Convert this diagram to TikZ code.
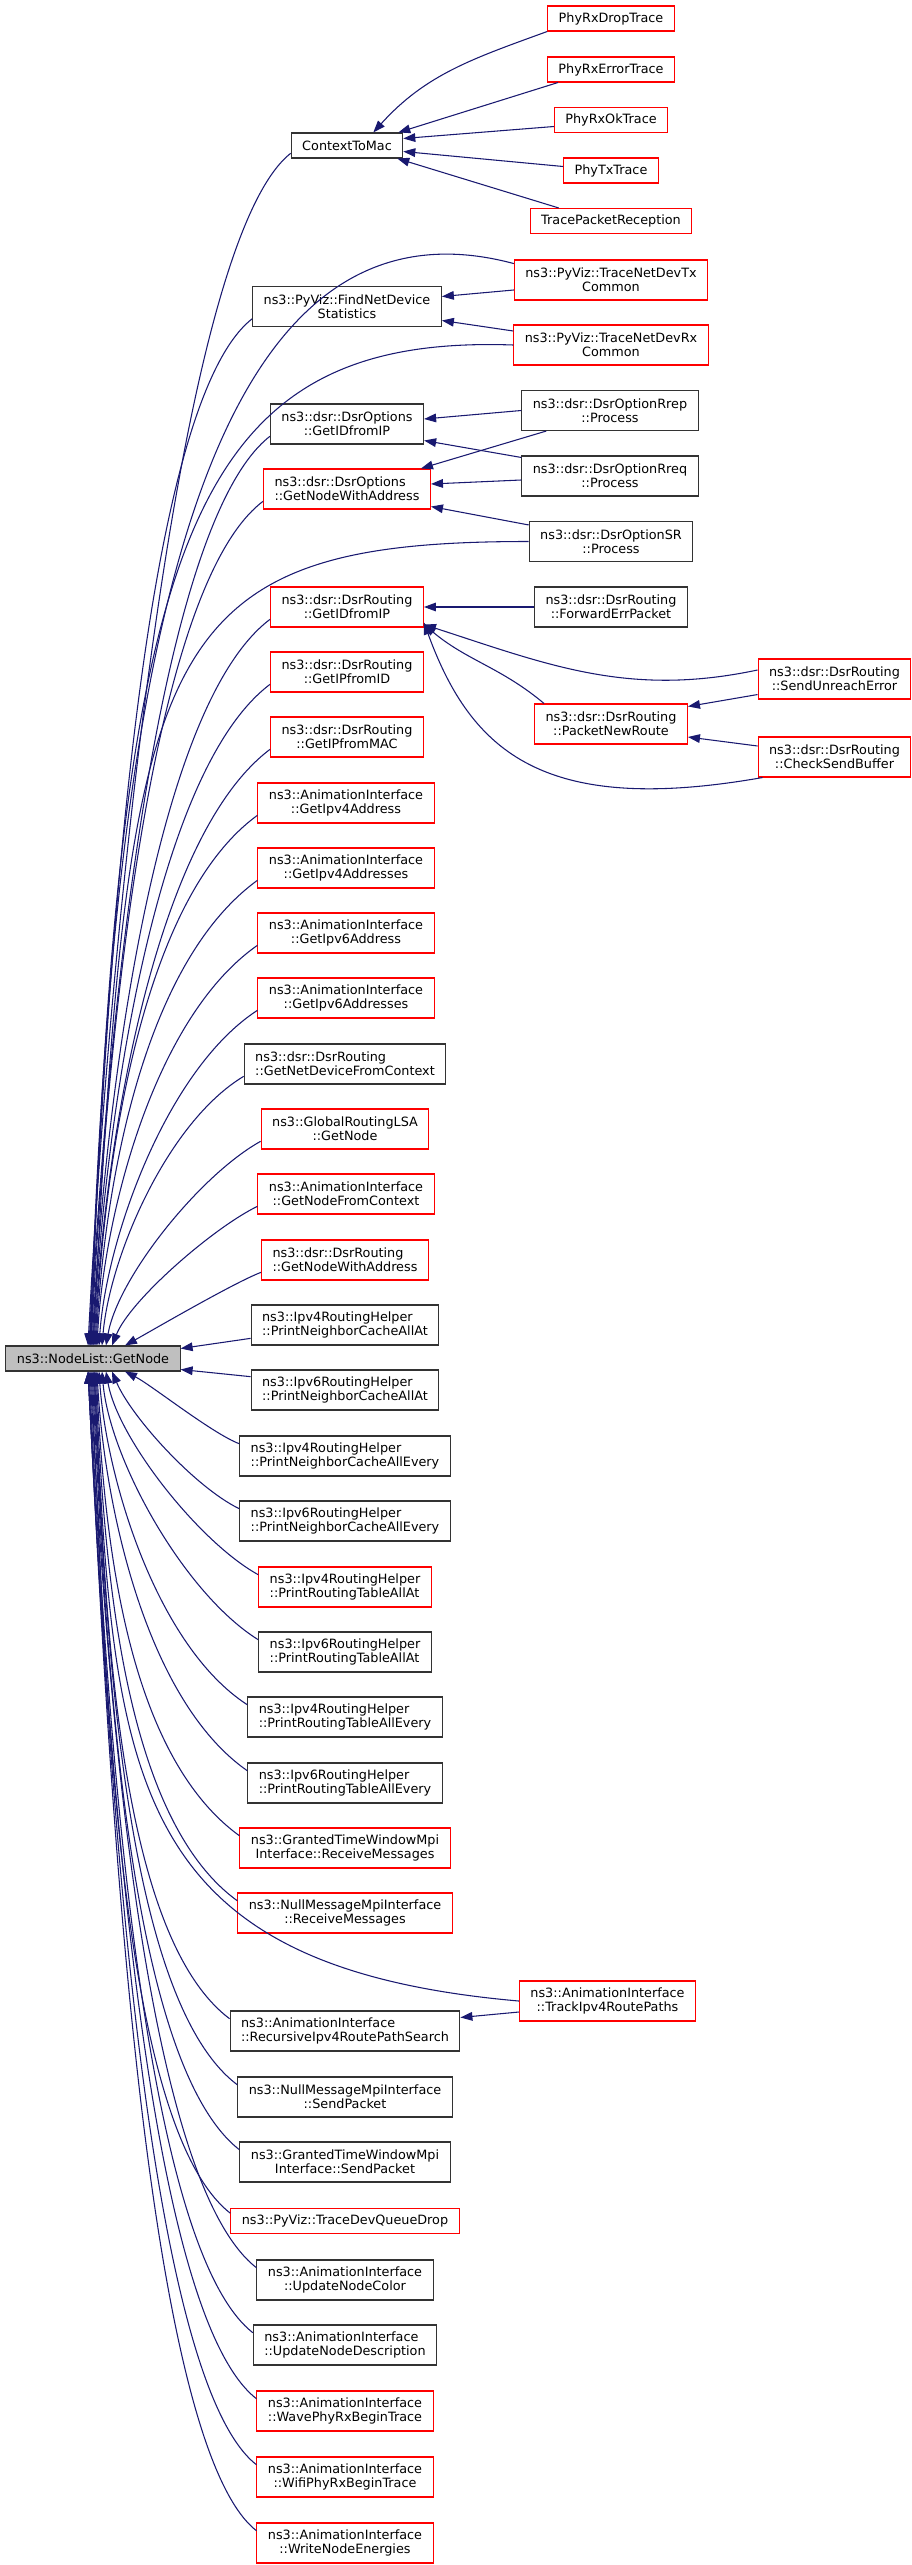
\documentclass[tikz,border=0pt]{standalone}
\usepackage{fontspec}
\setmainfont{DejaVu Sans}
\usetikzlibrary{arrows.meta,calc}
\definecolor{edgeblue}{HTML}{191970}

\begin{document}
\begin{tikzpicture}[x=0.75pt, y=0.75pt,
        fn/.style = {draw=black!80, line width=0.8pt, minimum height=18.75pt, inner xsep=8.25pt, inner ysep=1pt, font=\fontsize{9.6}{10.7}\selectfont, align=center},
        two/.style = {minimum height=30pt},
        hot/.style = {draw=red},
        lft/.style = {align=left},
        calls/.style = {draw=edgeblue, line width=0.8pt, -{Triangle[length=9pt,width=6.5pt]}},]
    \useasboundingbox (0,0) rectangle (912,-2565);

    % root
    \node[fn, fill=gray!50] (root) at (93,-1358.5) {ns3::NodeList::GetNode};

    % callers above the root
    \node[fn] (ctx) at (347,-145.5) {ContextToMac};
    \node[fn, hot] (drop) at (611,-18.5) {PhyRxDropTrace};
    \node[fn, hot] (err) at (611,-69.5) {PhyRxErrorTrace};
    \node[fn, hot] (ok) at (611,-120) {PhyRxOkTrace};
    \node[fn, hot] (ptx) at (611,-170.5) {PhyTxTrace};
    \node[fn, hot] (recv) at (611,-221) {TracePacketReception};
    \node[fn, two] (find) at (347,-306.5) {ns3::PyViz::FindNetDevice\\Statistics};
    \node[fn, two, hot] (devtx) at (611,-280) {ns3::PyViz::TraceNetDevTx\\Common};
    \node[fn, two, hot] (devrx) at (611,-345) {ns3::PyViz::TraceNetDevRx\\Common};
    \node[fn, two] (optip) at (347,-424) {ns3::dsr::DsrOptions\\::GetIDfromIP};
    \node[fn, two, hot, lft] (optnode) at (347,-489) {ns3::dsr::DsrOptions\\::GetNodeWithAddress};
    \node[fn, two] (rrep) at (610,-410.5) {ns3::dsr::DsrOptionRrep\\::Process};
    \node[fn, two] (rreq) at (610,-476) {ns3::dsr::DsrOptionRreq\\::Process};
    \node[fn, two] (sr) at (611,-541.5) {ns3::dsr::DsrOptionSR\\::Process};
    \node[fn, two, hot] (rtip) at (347,-607) {ns3::dsr::DsrRouting\\::GetIDfromIP};
    \node[fn, two] (fwd) at (611,-607) {ns3::dsr::DsrRouting\\::ForwardErrPacket};
    \node[fn, two, hot] (unreach) at (834.5,-679) {ns3::dsr::DsrRouting\\::SendUnreachError};
    \node[fn, two, hot] (newroute) at (611,-724) {ns3::dsr::DsrRouting\\::PacketNewRoute};
    \node[fn, two, hot] (sendbuf) at (834.5,-757) {ns3::dsr::DsrRouting\\::CheckSendBuffer};
    \node[fn, two, hot] (ipfromid) at (347,-672) {ns3::dsr::DsrRouting\\::GetIPfromID};
    \node[fn, two, hot] (ipfrommac) at (347,-737) {ns3::dsr::DsrRouting\\::GetIPfromMAC};
    \node[fn, two, hot] (v4addr) at (346,-803) {ns3::AnimationInterface\\::GetIpv4Address};
    \node[fn, two, hot] (v4addrs) at (346,-868) {ns3::AnimationInterface\\::GetIpv4Addresses};
    \node[fn, two, hot] (v6addr) at (346,-933) {ns3::AnimationInterface\\::GetIpv6Address};
    \node[fn, two, hot] (v6addrs) at (346,-998) {ns3::AnimationInterface\\::GetIpv6Addresses};
    \node[fn, two, lft] (netdev) at (345,-1064) {ns3::dsr::DsrRouting\\::GetNetDeviceFromContext};
    \node[fn, two, hot] (lsa) at (345,-1129) {ns3::GlobalRoutingLSA\\::GetNode};
    \node[fn, two, hot] (nodectx) at (346,-1194) {ns3::AnimationInterface\\::GetNodeFromContext};
    \node[fn, two, hot, lft] (rtnode) at (345,-1260) {ns3::dsr::DsrRouting\\::GetNodeWithAddress};

    % callers beside and below the root
    \node[fn, two, lft] (ncat4) at (345,-1325) {ns3::Ipv4RoutingHelper\\::PrintNeighborCacheAllAt};
    \node[fn, two, lft] (ncat6) at (345,-1390) {ns3::Ipv6RoutingHelper\\::PrintNeighborCacheAllAt};
    \node[fn, two, lft] (ncev4) at (345,-1456) {ns3::Ipv4RoutingHelper\\::PrintNeighborCacheAllEvery};
    \node[fn, two, lft] (ncev6) at (345,-1521) {ns3::Ipv6RoutingHelper\\::PrintNeighborCacheAllEvery};
    \node[fn, two, hot, lft] (rtat4) at (345,-1587) {ns3::Ipv4RoutingHelper\\::PrintRoutingTableAllAt};
    \node[fn, two, lft] (rtat6) at (345,-1652) {ns3::Ipv6RoutingHelper\\::PrintRoutingTableAllAt};
    \node[fn, two, lft] (rtev4) at (345,-1717) {ns3::Ipv4RoutingHelper\\::PrintRoutingTableAllEvery};
    \node[fn, two, lft] (rtev6) at (345,-1783) {ns3::Ipv6RoutingHelper\\::PrintRoutingTableAllEvery};
    \node[fn, two, hot] (gtrecv) at (345,-1848) {ns3::GrantedTimeWindowMpi\\Interface::ReceiveMessages};
    \node[fn, two, hot] (nmrecv) at (345,-1913) {ns3::NullMessageMpiInterface\\::ReceiveMessages};
    \node[fn, two, hot] (track) at (607.5,-2001) {ns3::AnimationInterface\\::TrackIpv4RoutePaths};
    \node[fn, two, lft] (recur) at (345,-2031) {ns3::AnimationInterface\\::RecursiveIpv4RoutePathSearch};
    \node[fn, two] (nmsend) at (345,-2097) {ns3::NullMessageMpiInterface\\::SendPacket};
    \node[fn, two] (gtsend) at (345,-2162) {ns3::GrantedTimeWindowMpi\\Interface::SendPacket};
    \node[fn, hot] (qdrop) at (345,-2221) {ns3::PyViz::TraceDevQueueDrop};
    \node[fn, two] (ncolor) at (345,-2280) {ns3::AnimationInterface\\::UpdateNodeColor};
    \node[fn, two, lft] (descr) at (345,-2345) {ns3::AnimationInterface\\::UpdateNodeDescription};
    \node[fn, two, hot] (wave) at (345,-2411) {ns3::AnimationInterface\\::WavePhyRxBeginTrace};
    \node[fn, two, hot] (wifi) at (345,-2477) {ns3::AnimationInterface\\::WifiPhyRxBeginTrace};
    \node[fn, two, hot] (energy) at (345,-2543) {ns3::AnimationInterface\\::WriteNodeEnergies};

    % ContextToMac callers
    \draw[calls] (drop.south west) to[out=200, in=48] ($(ctx.north east)+(-30,0)$);
    \draw[calls] ($(err.south west)+(11,0)$) -- ($(ctx.north east)+(-5,0)$);
    \draw[calls] ($(ok.west)!0.5!(ok.south west)$) -- ($(ctx.east)+(0,7)$);
    \draw[calls] ($(ptx.west)+(0,4)$) -- ($(ctx.east)+(0,-6)$);
    \draw[calls] ($(recv.north west)+(29,0)$) -- ($(ctx.south east)+(-6,0)$);

    % PyViz and dsr options
    \draw[calls] ($(devtx.west)+(0,-10)$) -- ($(find.east)+(0,10)$);
    \draw[calls] ($(devrx.west)+(0,14)$) -- ($(find.east)+(0,-14)$);
    \draw[calls] (rrep.west) -- ($(optip.east)+(0,5)$);
    \draw[calls] ($(rrep.south west)+(25,0)$) -- ($(optnode.north east)+(-10,0)$);
    \draw[calls] ($(rreq.north west)+(0,-2)$) -- ($(optip.south east)+(0,4)$);
    \draw[calls] ($(rreq.west)+(0,-4)$) -- ($(optnode.east)+(0,5)$);
    \draw[calls] ($(sr.north west)+(0,-4)$) -- ($(optnode.south east)+(0,3)$);

    % dsr routing
    \draw[calls] (fwd) -- (rtip);
    \draw[calls] ($(unreach.west)+(0,9)$) to[out=192, in=-18] ($(rtip.south east)+(0,3)$);
    \draw[calls] ($(newroute.north west)+(10,0)$) to[out=140, in=-40] ($(rtip.south east)+(0,3)$);
    \draw[calls] ($(sendbuf.south west)+(5,0)$) to[out=190, in=-70, out distance=165pt, in distance=105pt] ($(rtip.south east)+(0,5)$);
    \draw[calls] ($(unreach.south west)+(0,5)$) -- ($(newroute.north east)+(0,-3)$);
    \draw[calls] ($(sendbuf.west)+(0,11)$) -- ($(newroute.east)+(0,-13)$);
    \draw[calls] ($(track.west)+(0,-11)$) -- ($(recur.north east)+(0,-7)$);

    % calls into the root, from above
    \draw[calls] ($(ctx.west)!0.6!(ctx.south west)$) to[out=218, in=87, out distance=112pt, in distance=273pt] ($(root.north)+(-5,0)$);
    \draw[calls] ($(devtx.west)!0.8!(devtx.north west)$) to[out=165, in=88, out distance=262pt, in distance=450pt] ($(root.north)+(-3,0)$);
    \draw[calls] ($(find.west)!0.6!(find.south west)$) to[out=218, in=87, out distance=112pt, in distance=237pt] ($(root.north)+(-4,0)$);
    \draw[calls] (devrx.west) to[out=178, in=88, out distance=247pt, in distance=600pt] ($(root.north)+(-2,0)$);
    \draw[calls] ($(optip.west)!0.6!(optip.south west)$) to[out=218, in=87, out distance=112pt, in distance=210pt] ($(root.north)+(-3,0)$);
    \draw[calls] ($(optnode.west)!0.6!(optnode.south west)$) to[out=217, in=87, out distance=112pt, in distance=196pt] ($(root.north)+(-2,0)$);
    \draw[calls] (sr.west) to[out=180, in=87, out distance=285pt, in distance=525pt] ($(root.north)+(0,0)$);
    \draw[calls] ($(rtip.west)!0.6!(rtip.south west)$) to[out=217, in=87, out distance=112pt, in distance=169pt] ($(root.north)+(-1,0)$);
    \draw[calls] ($(ipfromid.west)!0.6!(ipfromid.south west)$) to[out=217, in=87, out distance=112pt, in distance=155pt] ($(root.north)+(0,0)$);
    \draw[calls] ($(ipfrommac.west)!0.6!(ipfrommac.south west)$) to[out=217, in=87, out distance=112pt, in distance=140pt] ($(root.north)+(1,0)$);
    \draw[calls] ($(v4addr.west)!0.6!(v4addr.south west)$) to[out=216, in=87, out distance=112pt, in distance=125pt] ($(root.north)+(2,0)$);
    \draw[calls] ($(v4addrs.west)!0.6!(v4addrs.south west)$) to[out=216, in=87, out distance=110pt, in distance=110pt] ($(root.north)+(3,0)$);
    \draw[calls] ($(v6addr.west)!0.6!(v6addr.south west)$) to[out=215, in=87, out distance=96pt, in distance=96pt] ($(root.north)+(4,0)$);
    \draw[calls] ($(v6addrs.west)!0.6!(v6addrs.south west)$) to[out=213, in=86, out distance=81pt, in distance=81pt] ($(root.north)+(6,0)$);
    \draw[calls] ($(netdev.west)!0.6!(netdev.south west)$) to[out=211, in=85, out distance=67pt, in distance=67pt] ($(root.north)+(9,0)$);
    \draw[calls] ($(lsa.west)!0.6!(lsa.south west)$) to[out=209, in=80, out distance=52pt, in distance=52pt] ($(root.north)+(13,0)$);
    \draw[calls] ($(nodectx.west)!0.6!(nodectx.south west)$) to[out=206, in=68, out distance=37pt, in distance=37pt] ($(root.north)+(19,0)$);
    \draw[calls] ($(rtnode.west)!0.6!(rtnode.south west)$) to[out=201, in=29, out distance=22pt, in distance=22pt] ($(root.north)+(32,0)$);

    % calls into the root, from the side
    \draw[calls] ($(ncat4.west)!0.65!(ncat4.south west)$) -- ($(root.east)+(0,10)$);
    \draw[calls] ($(ncat6.west)!0.65!(ncat6.north west)$) -- ($(root.east)+(0,-11)$);

    % calls into the root, from below
    \draw[calls] ($(ncev4.west)!0.6!(ncev4.north west)$) to[out=159, in=333, out distance=22pt, in distance=22pt] ($(root.south)+(32,0)$);
    \draw[calls] ($(ncev6.west)!0.6!(ncev6.north west)$) to[out=154, in=293, out distance=37pt, in distance=37pt] ($(root.south)+(19,0)$);
    \draw[calls] ($(rtat4.west)!0.6!(rtat4.north west)$) to[out=151, in=280, out distance=51pt, in distance=51pt] ($(root.south)+(13,0)$);
    \draw[calls] ($(rtat6.west)!0.6!(rtat6.north west)$) to[out=148, in=275, out distance=66pt, in distance=66pt] ($(root.south)+(9,0)$);
    \draw[calls] ($(rtev4.west)!0.6!(rtev4.north west)$) to[out=147, in=274, out distance=81pt, in distance=81pt] ($(root.south)+(6,0)$);
    \draw[calls] ($(rtev6.west)!0.6!(rtev6.north west)$) to[out=145, in=273, out distance=95pt, in distance=95pt] ($(root.south)+(4,0)$);
    \draw[calls] ($(gtrecv.west)!0.6!(gtrecv.north west)$) to[out=144, in=273, out distance=110pt, in distance=110pt] ($(root.south)+(3,0)$);
    \draw[calls] ($(nmrecv.west)!0.6!(nmrecv.north west)$) to[out=144, in=273, out distance=112pt, in distance=125pt] ($(root.south)+(2,0)$);
    \draw[calls] (track.west) to[out=175, in=273, out distance=300pt, in distance=300pt] ($(root.south)+(1,0)$);
    \draw[calls] ($(recur.west)!0.6!(recur.north west)$) to[out=143, in=273, out distance=112pt, in distance=151pt] ($(root.south)+(1,0)$);
    \draw[calls] ($(nmsend.west)!0.6!(nmsend.north west)$) to[out=143, in=273, out distance=112pt, in distance=166pt] ($(root.south)+(0,0)$);
    \draw[calls] ($(gtsend.west)!0.6!(gtsend.north west)$) to[out=142, in=273, out distance=112pt, in distance=181pt] ($(root.south)+(-1,0)$);
    \draw[calls] ($(qdrop.west)!0.6!(qdrop.north west)$) to[out=142, in=273, out distance=112pt, in distance=194pt] ($(root.south)+(-2,0)$);
    \draw[calls] ($(ncolor.west)!0.6!(ncolor.north west)$) to[out=142, in=273, out distance=112pt, in distance=207pt] ($(root.south)+(-3,0)$);
    \draw[calls] ($(descr.west)!0.6!(descr.north west)$) to[out=142, in=273, out distance=112pt, in distance=222pt] ($(root.south)+(-4,0)$);
    \draw[calls] ($(wave.west)!0.6!(wave.north west)$) to[out=142, in=273, out distance=112pt, in distance=237pt] ($(root.south)+(-5,0)$);
    \draw[calls] ($(wifi.west)!0.6!(wifi.north west)$) to[out=142, in=273, out distance=112pt, in distance=252pt] ($(root.south)+(-5,0)$);
    \draw[calls] ($(energy.west)!0.6!(energy.north west)$) to[out=142, in=273, out distance=112pt, in distance=266pt] ($(root.south)+(-5,0)$);
\end{tikzpicture}
\end{document}
